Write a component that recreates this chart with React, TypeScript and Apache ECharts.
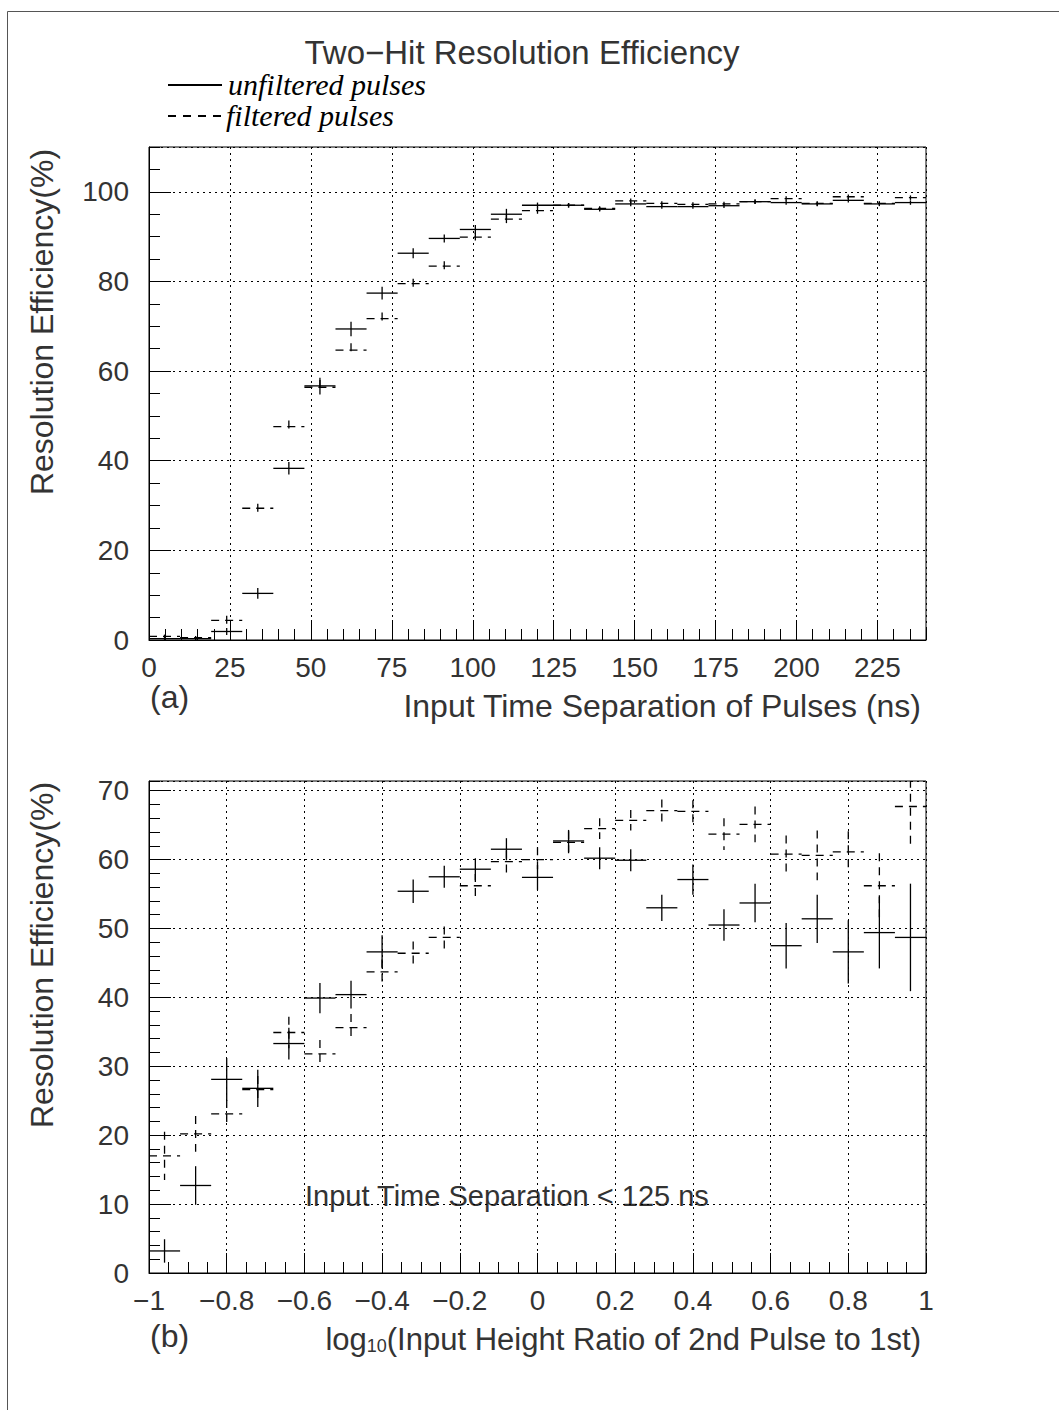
import React, { useEffect, useRef } from "react";
import * as echarts from "echarts";

// ---------- Data ----------
const topBinCenters = [4.8, 14.4, 24, 33.6, 43.2, 52.8, 62.4, 72, 81.6, 91.2, 100.8, 110.4, 120, 129.6, 139.2, 148.8, 158.4, 168, 177.6, 187.2, 196.8, 206.4, 216, 225.6, 235.2];
const topBinHalfWidth = 4.8;
const topUnfiltered = [0.3, 0.3, 1.9, 10.4, 38.3, 56.7, 69.4, 77.4, 86.3, 89.6, 91.6, 95.0, 97.0, 97.0, 96.1, 97.3, 96.7, 96.7, 96.9, 97.8, 97.6, 97.3, 98.1, 97.3, 97.6];
const topUnfilteredErr = [0.3, 0.3, 0.8, 1.2, 1.4, 1.8, 1.6, 1.4, 1.1, 0.9, 1.0, 1.2, 0.6, 0.5, 0.5, 0.5, 0.5, 0.5, 0.5, 0.5, 0.5, 0.5, 0.5, 0.5, 0.5];
const topFiltered = [0.8, 0.5, 4.4, 29.4, 47.6, 56.4, 64.7, 71.7, 79.5, 83.4, 89.9, 93.9, 95.8, 97.0, 96.3, 98.0, 97.4, 97.2, 97.3, 97.8, 98.5, 97.4, 98.9, 97.4, 98.7];
const topFilteredErr = [0.4, 0.4, 1.0, 1.0, 1.4, 1.6, 1.5, 1.4, 1.1, 1.1, 1.0, 0.9, 0.7, 0.5, 0.5, 0.5, 0.5, 0.5, 0.5, 0.5, 0.5, 0.5, 0.5, 0.5, 0.5];

const bottomBinCenters = [-0.96, -0.88, -0.8, -0.72, -0.64, -0.56, -0.48, -0.4, -0.32, -0.24, -0.16, -0.08, 0, 0.08, 0.16, 0.24, 0.32, 0.4, 0.48, 0.56, 0.64, 0.72, 0.8, 0.88, 0.96];
const bottomBinHalfWidth = 0.04;
const bottomUnfiltered = [3.2, 12.7, 28.1, 26.8, 33.3, 39.9, 40.4, 46.6, 55.4, 57.5, 58.6, 61.5, 57.4, 62.7, 60.2, 59.9, 53.0, 57.1, 50.5, 53.7, 47.5, 51.4, 46.6, 49.4, 48.7];
const bottomUnfilteredErr = [1.7, 2.8, 3.1, 2.7, 2.3, 2.2, 2.0, 2.4, 1.7, 1.6, 1.6, 1.6, 1.8, 1.6, 1.6, 1.6, 1.9, 2.2, 2.3, 2.8, 3.3, 3.5, 4.6, 5.2, 7.8];
const bottomFiltered = [17.0, 20.2, 23.1, 26.6, 34.9, 31.8, 35.6, 43.7, 46.4, 48.7, 56.2, 59.7, 60.0, 62.5, 64.5, 65.7, 67.1, 67.0, 63.7, 65.1, 60.8, 60.6, 61.1, 56.2, 67.7];
const bottomFilteredErr = [3.5, 2.6, 2.0, 2.0, 2.3, 2.0, 2.0, 1.8, 1.7, 1.6, 1.7, 1.6, 1.8, 1.6, 1.5, 1.5, 1.6, 1.6, 2.3, 2.6, 2.7, 3.6, 3.0, 4.7, 5.9];

const titleText = "Two\u2212Hit Resolution Efficiency";
const legendLabels = ["unfiltered pulses", "filtered pulses"];
const yAxisTitle = "Resolution Efficiency(%)";
const topXAxisTitle = "Input Time Separation of Pulses (ns)";
const bottomXAxisTitleTail = "(Input Height Ratio of 2nd Pulse to 1st)";
const annotationText = "Input Time Separation < 125 ns";

// ---------- Styling ----------
const FONT = "Liberation Sans, Arial, sans-serif";
const SERIF = "Liberation Serif, Times New Roman, serif";
const TXT = "#333";

function build(xs: number[], ys: number[], es: number[], half: number) {
  return xs.map((x, i) => [x, ys[i], half, es[i]]);
}

function crossSeries(name: string, data: number[][], gridIdx: number, dashed: boolean) {
  return {
    name,
    type: "custom",
    xAxisIndex: gridIdx,
    yAxisIndex: gridIdx,
    clip: true,
    data,
    renderItem: (params: any, api: any) => {
      const x = api.value(0);
      const y = api.value(1);
      const ex = api.value(2);
      const ey = api.value(3);
      const pL = api.coord([x - ex, y]);
      const pR = api.coord([x + ex, y]);
      const pT = api.coord([x, y + ey]);
      const pB = api.coord([x, y - ey]);
      const style: any = { stroke: "#000", lineWidth: 1.3, fill: null };
      if (dashed) style.lineDash = [8, 6];
      return {
        type: "group",
        children: [
          { type: "line", shape: { x1: pL[0], y1: pL[1], x2: pR[0], y2: pR[1] }, style },
          { type: "line", shape: { x1: pT[0], y1: pT[1], x2: pB[0], y2: pB[1] }, style },
        ],
      };
    },
  };
}

const minus = (v: number) => {
  const r = Math.round(v * 100) / 100;
  return r < 0 ? "\u2212" + String(Math.abs(r)) : String(r);
};

const dotted = { show: true, lineStyle: { color: "#000", width: 1, type: [2, 4] } };

function mainX(gridIndex: number, min: number, max: number, interval: number, fmt?: any) {
  return {
    type: "value",
    gridIndex,
    min,
    max,
    interval,
    position: "bottom",
    axisLine: { show: true, onZero: false, lineStyle: { color: "#000", width: 1 } },
    axisTick: { show: true, inside: true, length: 20, lineStyle: { color: "#000", width: 1 } },
    axisLabel: {
      show: true,
      fontSize: 28,
      fontFamily: FONT,
      color: TXT,
      margin: 13,
      showMaxLabel: gridIndex === 1,
      formatter: fmt,
    },
    splitLine: dotted,
  };
}
function mainY(gridIndex: number, min: number, max: number, interval: number) {
  return {
    type: "value",
    gridIndex,
    min,
    max,
    interval,
    position: "left",
    axisLine: { show: true, onZero: false, lineStyle: { color: "#000", width: 1 } },
    axisTick: { show: true, inside: true, length: 22, lineStyle: { color: "#000", width: 1 } },
    axisLabel: { show: true, fontSize: 28, fontFamily: FONT, color: TXT, margin: 20, showMaxLabel: false },
    splitLine: dotted,
  };
}
function minorAxis(gridIndex: number, min: number, max: number, interval: number, pos: string) {
  return {
    type: "value",
    gridIndex,
    min,
    max,
    interval,
    position: pos,
    axisLine: { show: false, onZero: false },
    axisTick: { show: true, inside: true, length: 11, lineStyle: { color: "#000", width: 1 } },
    axisLabel: { show: false },
    splitLine: { show: false },
  };
}

export default function App() {
  const ref = useRef<HTMLDivElement>(null);
  useEffect(() => {
    if (!ref.current) return;
    const chart = echarts.init(ref.current, undefined, { renderer: "svg" });
    const gTop = { left: 149, top: 147, width: 777, height: 493 };
    const gBot = { left: 149, top: 781, width: 777, height: 492 };
    const option: any = {
      animation: false,
      backgroundColor: "#fff",
      grid: [
        { ...gTop, show: true, borderColor: "#000", borderWidth: 1, backgroundColor: "transparent" },
        { ...gBot, show: true, borderColor: "#000", borderWidth: 1, backgroundColor: "transparent" },
        { ...gTop, show: false },
        { ...gBot, show: false },
      ],
      xAxis: [
        mainX(0, 0, 240, 25),
        mainX(1, -1, 1, 0.2, minus),
        minorAxis(2, 0, 240, 5, "bottom"),
        minorAxis(3, -1, 1, 0.05, "bottom"),
      ],
      yAxis: [
        mainY(0, 0, 110, 20),
        mainY(1, 0, 71.4, 10),
        minorAxis(2, 0, 110, 5, "left"),
        minorAxis(3, 0, 71.4, 2, "left"),
      ],
      series: [
        crossSeries(legendLabels[0] + " (a)", build(topBinCenters, topUnfiltered, topUnfilteredErr, topBinHalfWidth), 0, false),
        crossSeries(legendLabels[1] + " (a)", build(topBinCenters, topFiltered, topFilteredErr, topBinHalfWidth), 0, true),
        crossSeries(legendLabels[0] + " (b)", build(bottomBinCenters, bottomUnfiltered, bottomUnfilteredErr, bottomBinHalfWidth), 1, false),
        crossSeries(legendLabels[1] + " (b)", build(bottomBinCenters, bottomFiltered, bottomFilteredErr, bottomBinHalfWidth), 1, true),
      ],
      graphic: [
        { type: "line", shape: { x1: 7.5, y1: 11.5, x2: 1059, y2: 11.5 }, style: { stroke: "#555", lineWidth: 1 } },
        { type: "line", shape: { x1: 7.5, y1: 11.5, x2: 7.5, y2: 1410 }, style: { stroke: "#555", lineWidth: 1 } },
        {
          type: "text", x: 522, y: 52,
          style: { text: titleText, fontSize: 33, fontFamily: FONT, fill: TXT, align: "center", verticalAlign: "middle" },
        },
        { type: "line", shape: { x1: 168, y1: 85, x2: 222, y2: 85 }, style: { stroke: "#000", lineWidth: 2.2 } },
        { type: "line", shape: { x1: 168, y1: 116, x2: 224, y2: 116 }, style: { stroke: "#000", lineWidth: 2, lineDash: [8, 7] } },
        {
          type: "text", x: 228, y: 84,
          style: { text: legendLabels[0], fontSize: 30, fontStyle: "italic", fontFamily: SERIF, fill: "#000", align: "left", verticalAlign: "middle" },
        },
        {
          type: "text", x: 226, y: 115,
          style: { text: legendLabels[1], fontSize: 30, fontStyle: "italic", fontFamily: SERIF, fill: "#000", align: "left", verticalAlign: "middle" },
        },
        {
          type: "text", x: 42, y: 322, rotation: Math.PI / 2,
          style: { text: yAxisTitle, fontSize: 32, fontFamily: FONT, fill: TXT, align: "center", verticalAlign: "middle" },
        },
        {
          type: "text", x: 42, y: 955, rotation: Math.PI / 2,
          style: { text: yAxisTitle, fontSize: 32, fontFamily: FONT, fill: TXT, align: "center", verticalAlign: "middle" },
        },
        {
          type: "text", x: 150, y: 697,
          style: { text: "(a)", fontSize: 32, fontFamily: FONT, fill: TXT, align: "left", verticalAlign: "middle" },
        },
        {
          type: "text", x: 921, y: 706,
          style: { text: topXAxisTitle, fontSize: 32, fontFamily: FONT, fill: TXT, align: "right", verticalAlign: "middle" },
        },
        {
          type: "text", x: 150, y: 1336,
          style: { text: "(b)", fontSize: 32, fontFamily: FONT, fill: TXT, align: "left", verticalAlign: "middle" },
        },
        {
          type: "text", x: 921, y: 1337,
          style: {
            text: "{m|log}{s|10}{m|" + bottomXAxisTitleTail + "}",
            align: "right", verticalAlign: "middle", fill: TXT, fontFamily: FONT,
            rich: {
              m: { fontSize: 31, fontFamily: FONT, fill: TXT, verticalAlign: "bottom", lineHeight: 36 },
              s: { fontSize: 18, fontFamily: FONT, fill: TXT, verticalAlign: "bottom", lineHeight: 28 },
            },
          },
        },
        {
          type: "text", x: 305, y: 1196,
          style: { text: annotationText, fontSize: 29, fontFamily: FONT, fill: TXT, align: "left", verticalAlign: "middle" },
        },
      ],
    };
    chart.setOption(option);
    return () => chart.dispose();
  }, []);
  return (
    <div
      ref={ref}
      style={{ position: "absolute", left: 0, top: 0, width: 1059, height: 1410, background: "#fff" }}
    />
  );
}
